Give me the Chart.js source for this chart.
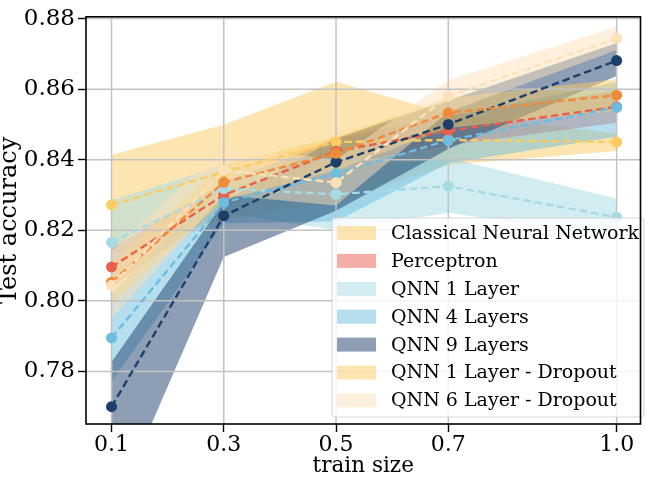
<!DOCTYPE html>
<html lang="en">
<head>
<meta charset="UTF-8">
<title>Test accuracy vs train size</title>
<script src="https://cdn.jsdelivr.net/npm/chart.js"></script>
<style>
  html, body { margin: 0; padding: 0; background: #ffffff; }
  #wrap { width: 646px; height: 480px; }
</style>
</head>
<body>
<div id="wrap"><canvas id="accuracy-chart" width="646" height="480"></canvas></div>
<script>
// values
const trainSize = [0.1, 0.3, 0.5, 0.7, 1.0];
const xTicks = [0.1, 0.3, 0.5, 0.7, 1.0];
const yTicks = [0.78, 0.80, 0.82, 0.84, 0.86, 0.88];

const seriesNames = [
    'Classical Neural Network',
    'Perceptron',
    'QNN 1 Layer',
    'QNN 4 Layers',
    'QNN 9 Layers',
    'QNN 1 Layer - Dropout',
    'QNN 6 Layer - Dropout'
];

const cnnMean  = [0.8272, 0.8365, 0.8450, 0.8456, 0.8450];
const cnnUpper = [0.8414, 0.8499, 0.8621, 0.8530, 0.8475];
const cnnLower = [0.8130, 0.8230, 0.8280, 0.8385, 0.8425];

const perceptronMean  = [0.8096, 0.8300, 0.8424, 0.8482, 0.8550];
const perceptronUpper = [0.8150, 0.8335, 0.8460, 0.8525, 0.8595];
const perceptronLower = [0.8040, 0.8265, 0.8388, 0.8440, 0.8505];

const qnn1Mean  = [0.8166, 0.8318, 0.8302, 0.8325, 0.8237];
const qnn1Upper = [0.8285, 0.8385, 0.8370, 0.8405, 0.8290];
const qnn1Lower = [0.8050, 0.8250, 0.8200, 0.8250, 0.8180];

const qnn4Mean  = [0.7895, 0.8279, 0.8361, 0.8455, 0.8548];
const qnn4Upper = [0.8020, 0.8340, 0.8450, 0.8520, 0.8620];
const qnn4Lower = [0.7770, 0.8220, 0.8225, 0.8390, 0.8465];

const qnn9Mean  = [0.7700, 0.8241, 0.8393, 0.8500, 0.8681];
const qnn9Upper = [0.7827, 0.8280, 0.8460, 0.8568, 0.8731];
const qnn9Lower = [0.7390, 0.8124, 0.8255, 0.8430, 0.8637];

const qnn1DropMean  = [0.8053, 0.8336, 0.8418, 0.8533, 0.8583];
const qnn1DropUpper = [0.8110, 0.8385, 0.8465, 0.8575, 0.8628];
const qnn1DropLower = [0.7990, 0.8285, 0.8370, 0.8490, 0.8538];

const qnn6DropMean  = [0.8044, 0.8370, 0.8335, 0.8580, 0.8744];
const qnn6DropUpper = [0.8140, 0.8440, 0.8400, 0.8625, 0.8777];
const qnn6DropLower = [0.7950, 0.8300, 0.8270, 0.8535, 0.8711];

const lineColors = ['#fccc64', '#e85f4b', '#a6dbe3', '#6cbde0', '#1d3f6b', '#f08b3b', '#fde2b9'];
const fillColors = [
    'rgba(252, 204, 100, 0.5)',
    'rgba(232, 95, 75, 0.5)',
    'rgba(166, 219, 227, 0.5)',
    'rgba(108, 189, 224, 0.5)',
    'rgba(29, 63, 107, 0.5)',
    'rgba(252, 204, 100, 0.5)',
    'rgba(253, 226, 185, 0.5)'
];

const means  = [cnnMean, perceptronMean, qnn1Mean, qnn4Mean, qnn9Mean, qnn1DropMean, qnn6DropMean];
const uppers = [cnnUpper, perceptronUpper, qnn1Upper, qnn4Upper, qnn9Upper, qnn1DropUpper, qnn6DropUpper];
const lowers = [cnnLower, perceptronLower, qnn1Lower, qnn4Lower, qnn9Lower, qnn1DropLower, qnn6DropLower];

const FONT = 'DejaVu Serif';
const toPoints = arr => trainSize.map((x, k) => ({ x: x, y: arr[k] }));

// three datasets per series: upper band (filled to next), lower band, dashed mean line
const datasets = [];
seriesNames.forEach((name, i) => {
    datasets.push({
        label: name + ' upper',
        data: toPoints(uppers[i]),
        fill: '+1',
        backgroundColor: fillColors[i],
        borderWidth: 0,
        pointRadius: 0,
        order: 100 - i
    });
    datasets.push({
        label: name + ' lower',
        data: toPoints(lowers[i]),
        fill: false,
        borderWidth: 0,
        pointRadius: 0,
        order: 100 - i
    });
    datasets.push({
        label: name,
        data: toPoints(means[i]),
        fill: false,
        borderColor: lineColors[i],
        borderWidth: 2.4,
        borderDash: [7.5, 4],
        pointRadius: 5.5,
        pointBackgroundColor: lineColors[i],
        pointBorderWidth: 0,
        order: 10 - i
    });
});

// grid goes above the bands but under the lines (like matplotlib)
const gridAboveFill = {
    id: 'gridAboveFill',
    beforeDatasetsDraw(chart) {
        const { ctx, chartArea: a, scales: { x, y } } = chart;
        ctx.save();
        ctx.strokeStyle = '#c2c2c2';
        ctx.lineWidth = 1.5;
        ctx.beginPath();
        xTicks.forEach(v => {
            const px = x.getPixelForValue(v);
            ctx.moveTo(px, a.top);
            ctx.lineTo(px, a.bottom);
        });
        yTicks.forEach(v => {
            const py = y.getPixelForValue(v);
            ctx.moveTo(a.left, py);
            ctx.lineTo(a.right, py);
        });
        ctx.stroke();
        ctx.restore();
    }
};

// axes frame and the legend box in the lower right
const frameAndLegend = {
    id: 'frameAndLegend',
    afterDraw(chart) {
        const { ctx, chartArea: a } = chart;
        ctx.save();

        const bx = 332, by = 218, bw = 312, bh = 199;
        ctx.beginPath();
        ctx.roundRect(bx, by, bw, bh, 4);
        ctx.fillStyle = 'rgba(255, 255, 255, 0.8)';
        ctx.fill();
        ctx.strokeStyle = 'rgba(204, 204, 204, 0.8)';
        ctx.lineWidth = 1.2;
        ctx.stroke();

        ctx.font = '19px "' + FONT + '"';
        ctx.textBaseline = 'middle';
        ctx.textAlign = 'left';
        seriesNames.forEach((name, i) => {
            const cy = 233 + i * 27.9;
            ctx.fillStyle = fillColors[i];
            ctx.fillRect(bx + 5, cy - 7, 39, 14);
            ctx.fillStyle = '#000';
            ctx.fillText(name, bx + 59, cy + 1);
        });

        ctx.strokeStyle = '#000';
        ctx.lineWidth = 1.6;
        ctx.strokeRect(a.left, a.top, a.right - a.left, a.bottom - a.top);
        ctx.restore();
    }
};

new Chart(document.getElementById('accuracy-chart'), {
    type: 'line',
    data: { datasets: datasets },
    plugins: [gridAboveFill, frameAndLegend],
    options: {
        responsive: false,
        animation: false,
        layout: { padding: { top: 7, right: 3, left: 0, bottom: 0 } },
        plugins: {
            legend: { display: false },
            tooltip: { enabled: false },
            filler: { drawTime: 'beforeDatasetsDraw' }
        },
        scales: {
            x: {
                type: 'linear',
                min: 0.0545,
                max: 1.0425,
                afterBuildTicks: s => { s.ticks = xTicks.map(v => ({ value: v })); },
                afterFit: s => { s.height = 56; },
                ticks: {
                    color: '#000',
                    font: { family: FONT, size: 22 },
                    padding: 0,
                    maxRotation: 0,
                    callback: v => v.toFixed(1)
                },
                grid: { drawOnChartArea: false, drawTicks: true, tickLength: 8, tickColor: '#000', tickWidth: 1.4 },
                border: { display: false },
                title: {
                    display: true,
                    text: 'train size',
                    color: '#000',
                    font: { family: FONT, size: 21.5, lineHeight: 1.1 },
                    padding: { top: 0, bottom: 2 }
                }
            },
            y: {
                type: 'linear',
                min: 0.7651,
                max: 0.8805,
                afterBuildTicks: s => { s.ticks = yTicks.map(v => ({ value: v })); },
                afterFit: s => { s.width = 86; },
                ticks: {
                    color: '#000',
                    font: { family: FONT, size: 23 },
                    padding: 3,
                    callback: v => v.toFixed(2)
                },
                grid: { drawOnChartArea: false, drawTicks: true, tickLength: 8, tickColor: '#000', tickWidth: 1.4 },
                border: { display: false },
                title: {
                    display: true,
                    text: 'Test accuracy',
                    color: '#000',
                    font: { family: FONT, size: 24, lineHeight: 1 },
                    padding: { top: -2, bottom: 0 }
                }
            }
        }
    }
});
</script>
</body>
</html>
